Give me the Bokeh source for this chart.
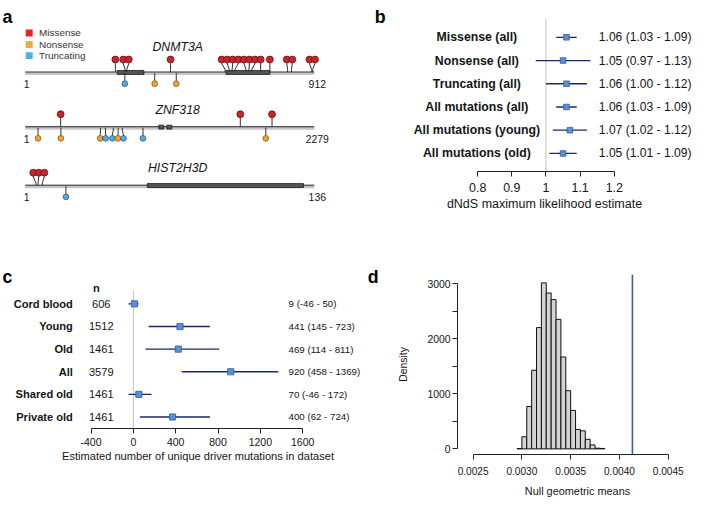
from bokeh.plotting import figure
from bokeh.models import (Range1d, FixedTicker, ColumnDataSource, Span, CustomJSTickFormatter)
from bokeh.layouts import row, column
from bokeh.embed import file_html
from bokeh.resources import INLINE
from bokeh.core.properties import value

FONT = "Liberation Sans"
TOTAL_W, TOTAL_H = 699, 500
SX = TOTAL_W / 707
SY = TOTAL_H / 508

# ---------------- data: panel a ----------------
legend_labels = ["Missense", "Nonsense", "Truncating"]
genes = ["DNMT3A", "ZNF318", "HIST2H3D"]
gene_lengths = [912, 2279, 136]
dnmt3a_missense = [285, 316, 321, 459, 631, 644, 653, 662, 697, 706, 715, 743, 772, 828, 840, 904, 907]
dnmt3a_nonsense = [409, 477]
dnmt3a_truncating = [315]
dnmt3a_domain_start = [291, 634]
dnmt3a_domain_end = [375, 772]
znf318_missense = [280, 1696, 1946]
znf318_nonsense = [102, 282, 594, 734, 1897]
znf318_truncating = [633, 695, 766, 929]
znf318_domain_start = [1054, 1117]
znf318_domain_end = [1093, 1156]
hist2h3d_missense = [6, 7, 9]
hist2h3d_nonsense = []
hist2h3d_truncating = [20]
hist2h3d_domain_start = [58]
hist2h3d_domain_end = [131]

# ---------------- data: panel b ----------------
b_labels = ["Missense (all)", "Nonsense (all)", "Truncating (all)",
            "All mutations (all)", "All mutations (young)", "All mutations (old)"]
b_est = [1.06, 1.05, 1.06, 1.06, 1.07, 1.05]
b_lo = [1.03, 0.97, 1.00, 1.03, 1.02, 1.01]
b_hi = [1.09, 1.13, 1.12, 1.09, 1.12, 1.09]
b_ticks = [0.8, 0.9, 1.0, 1.1, 1.2]

# ---------------- data: panel c ----------------
c_labels = ["Cord blood", "Young", "Old", "All", "Shared old", "Private old"]
c_n = [606, 1512, 1461, 3579, 1461, 1461]
c_point = [9, 441, 424, 920, 52, 370]
c_est = [9, 441, 469, 920, 70, 400]
c_lo = [-46, 145, 114, 458, -46, 62]
c_hi = [50, 723, 811, 1369, 172, 724]
c_ticks = [-400, 0, 400, 800, 1200, 1600]

# ---------------- data: panel d ----------------
d_edges = [0.00295, 0.00300, 0.00305, 0.00310, 0.00315, 0.00320, 0.00325, 0.00330,
           0.00335, 0.00340, 0.00345, 0.00350, 0.00355, 0.00360, 0.00365, 0.00370,
           0.00375, 0.00380, 0.00385]
d_density = [5, 220, 770, 1428, 2204, 3016, 2832, 2712, 2353, 1670, 1057, 699,
             353, 328, 174, 72, 12, 8]
d_observed = 0.004133
d_xticks = [0.0025, 0.0030, 0.0035, 0.0040, 0.0045]
d_yticks = [0, 500, 1000, 1500, 2000, 2500, 3000]

# ---------------- colours ----------------
MIS_FILL, MIS_LINE = "#c4262c", "#6a1014"
NON_FILL, NON_LINE = "#eca43a", "#8a5a10"
TRU_FILL, TRU_LINE = "#5aa9da", "#2a5f88"
LEG_COLORS = ["#e2242b", "#f3aa3c", "#4fb1e3"]
CI_COLOR = "#1c2768"
SQ_FILL, SQ_LINE = "#5a8fd2", "#2f5b9e"
TXT = "#151515"


def px(s):
    return f"{s * SX:.1f}px"


def spread(vals, gap):
    h = [float(v) for v in sorted(vals)]
    for _ in range(2000):
        moved = False
        for i in range(len(h) - 1):
            d = h[i + 1] - h[i]
            if d < gap - 1e-9:
                s = (gap - d) / 2.0
                h[i] -= s
                h[i + 1] += s
                moved = True
        if not moved:
            break
    return h


def style_axis(ax, tick_size, title_size, label_standoff, title_standoff):
    ax.axis_line_color = "#222222"
    ax.axis_line_width = 1
    ax.major_tick_line_color = "#222222"
    ax.major_tick_out = 5
    ax.major_tick_in = 0
    ax.minor_tick_line_color = None
    ax.major_label_text_font = FONT
    ax.major_label_text_font_size = px(tick_size)
    ax.major_label_text_color = TXT
    ax.major_label_standoff = label_standoff
    ax.axis_label_text_font = FONT
    ax.axis_label_text_font_style = "normal"
    ax.axis_label_text_font_size = px(title_size)
    ax.axis_label_text_color = TXT
    ax.axis_label_standoff = title_standoff


def new_fig(**kw):
    p = figure(output_backend="svg", toolbar_location=None, frame_align=False, **kw)
    p.grid.visible = False
    p.outline_line_color = None
    return p


def label_text(p, x, y, text, size, align="left", baseline="middle", style="normal",
               color=TXT, **kw):
    p.text(x=x, y=y, text=text, text_font=value(FONT), text_font_size=px(size),
           text_font_style=style, text_color=color, text_align=align,
           text_baseline=baseline, **kw)


# =============== panel a (figure spans ref x 0-393, y 0-250) ===============
A_RIGHT = 393.0
WA = round(A_RIGHT * SX)
H1 = round(250 * SY)
pa = new_fig(width=WA, height=H1, x_range=Range1d(0, A_RIGHT), y_range=Range1d(250, 0),
             x_axis_type=None, y_axis_type=None, min_border=0)

TRACK_X0, TRACK_X1 = 25.0, 317.0
TRACK_W = TRACK_X1 - TRACK_X0
TRACK_Y = [72.7, 128.3, 187.7]
NAME_Y = [47.0, 111.7, 170.0]
missense = [dnmt3a_missense, znf318_missense, hist2h3d_missense]
nonsense = [dnmt3a_nonsense, znf318_nonsense, hist2h3d_nonsense]
truncating = [dnmt3a_truncating, znf318_truncating, hist2h3d_truncating]
dom_s = [dnmt3a_domain_start, znf318_domain_start, hist2h3d_domain_start]
dom_e = [dnmt3a_domain_end, znf318_domain_end, hist2h3d_domain_end]

extra = {}
for gi, g in enumerate(genes):
    L = gene_lengths[gi]
    k = (L - 1) / TRACK_W
    extra[g] = Range1d(1 - TRACK_X0 * k, L + (A_RIGHT - TRACK_X1) * k)
pa.extra_x_ranges = extra

for gi, g in enumerate(genes):
    L = gene_lengths[gi]
    k = (L - 1) / TRACK_W
    ly = TRACK_Y[gi]
    pa.segment(x0=[1], x1=[L], y0=[ly + 1.7], y1=[ly + 1.7], x_range_name=g,
               line_color="#c6c6c6", line_width=2.6)
    pa.segment(x0=[1], x1=[L], y0=[ly], y1=[ly], x_range_name=g,
               line_color="#1e1e1e", line_width=1.0)
    ds, de = dom_s[gi], dom_e[gi]
    pa.quad(left=ds, right=de, top=[ly - 1.6] * len(ds), bottom=[ly + 2.4] * len(ds),
            x_range_name=g, fill_color="#555555", line_color="#1a1a1a", line_width=0.8)

    mis = sorted(missense[gi])
    heads = spread(mis, 5.6 * k)
    hy = ly - 12.7
    pa.multi_line(xs=[[h, h, b, b] for h, b in zip(heads, mis)],
                  ys=[[hy, hy + 4.0, ly - 2.5, ly] for _ in mis],
                  x_range_name=g, line_color="#2e2e2e", line_width=1)
    pa.scatter(x=heads, y=[hy] * len(heads), x_range_name=g, marker="circle",
               size=7.0 * SX, fill_color=MIS_FILL, line_color=MIS_LINE, line_width=0.8)

    items = sorted([(p, "N") for p in nonsense[gi]] + [(p, "T") for p in truncating[gi]])
    if items:
        bpos = [p for p, t in items]
        bheads = spread(bpos, 5.6 * k)
        byy = ly + 11.8
        pa.multi_line(xs=[[b, b, h, h] for h, b in zip(bheads, bpos)],
                      ys=[[ly + 1, ly + 3.5, byy - 3.5, byy] for _ in bpos],
                      x_range_name=g, line_color="#2e2e2e", line_width=1)
        fills = [NON_FILL if t == "N" else TRU_FILL for p, t in items]
        lines = [NON_LINE if t == "N" else TRU_LINE for p, t in items]
        pa.scatter(x=bheads, y=[byy] * len(bheads), x_range_name=g, marker="circle",
                   size=5.8 * SX, fill_color=fills, line_color=lines, line_width=0.8)

    label_text(pa, [179], [NAME_Y[gi]], [g], 12.4, align="center", style="italic")
    label_text(pa, [1], [ly + 12], ["1"], 10.5, align="center", x_range_name=g, x_offset=1.5)
    label_text(pa, [L], [ly + 12], [str(L)], 10.5, align="center", x_range_name=g, x_offset=3)

LEG_Y = [33.0, 44.7, 56.0]
pa.scatter(x=[29] * 3, y=LEG_Y, marker="square", size=7 * SX, fill_color=LEG_COLORS,
           line_color=None)
label_text(pa, [39] * 3, LEG_Y, legend_labels, 10, color="#333333")
label_text(pa, [2], [17], ["a"], 18, style="bold", baseline="alphabetic", color="#000000")
label_text(pa, [378], [16.7], ["b"], 18, style="bold", baseline="alphabetic", color="#000000")

# =============== panel b (figure spans ref x 393-707) ===============
WB = TOTAL_W - WA
B_ROW0, B_STEP = 37.3, 23.54
B_PX_UNIT = 346.0


def bx(ref_x):
    return 0.8 + (ref_x - 482.3) / B_PX_UNIT


def by_(ref_y):
    return (ref_y - B_ROW0) / B_STEP


b_y = list(range(len(b_labels)))
B_FRAME_H = round(173.3 * SY)
pb = new_fig(width=WB, height=H1, x_range=Range1d(bx(A_RIGHT), bx(707)),
             y_range=Range1d(by_(173.3), by_(0)), y_axis_type=None,
             min_border_left=0, min_border_right=0, min_border_top=0,
             min_border_bottom=H1 - B_FRAME_H)
pb.segment(x0=[1.0], x1=[1.0], y0=[by_(18)], y1=[by_(173.3)], line_color="#c3c3c3",
           line_width=1, level="underlay")
b_txt = [f"{e:.2f} ({l:.2f} - {h:.2f})" for e, l, h in zip(b_est, b_lo, b_hi)]
bsrc = ColumnDataSource(dict(y=b_y, est=b_est, lo=b_lo, hi=b_hi))
pb.segment(x0="lo", x1="hi", y0="y", y1="y", source=bsrc, line_color=CI_COLOR, line_width=1.3)
pb.scatter(x="est", y="y", source=bsrc, marker="square", size=5.6, fill_color=SQ_FILL,
           line_color=SQ_LINE, line_width=0.8)
label_text(pb, [bx(481.5)] * len(b_y), b_y, b_labels, 12.4, align="center", style="bold")
label_text(pb, [bx(605)] * len(b_y), b_y, b_txt, 12.2)
pb.xaxis.ticker = FixedTicker(ticks=b_ticks)
pb.xaxis.formatter = CustomJSTickFormatter(code="return String(Math.round(tick*10)/10);")
pb.xaxis.bounds = (0.8, 1.2)
pb.xaxis.axis_label = "dNdS maximum likelihood estimate"
style_axis(pb.xaxis, 12.5, 12.6, 6, 2)

# =============== panel c (figure spans ref x 0-400, y 250-508) ===============
H2 = TOTAL_H - H1
C_RIGHT = 400.0
WC = round(C_RIGHT * SX)
C_ROW0, C_STEP = 308.3, 23.0
C_PX_UNIT = 214.3 / 2000.0


def cx(ref_x):
    return -400 + (ref_x - 91.7) / C_PX_UNIT


def cy(ref_y):
    return (ref_y - C_ROW0) / C_STEP


c_y = list(range(len(c_labels)))
C_FRAME_H = round((435 - 250) * SY)
pc = new_fig(width=WC, height=H2, x_range=Range1d(cx(0), cx(C_RIGHT)),
             y_range=Range1d(cy(435), cy(250)), y_axis_type=None,
             min_border_left=0, min_border_right=0, min_border_top=0,
             min_border_bottom=H2 - C_FRAME_H)
c_txt = [f"{e} ({l} - {h})" for e, l, h in zip(c_est, c_lo, c_hi)]
csrc = ColumnDataSource(dict(y=c_y, pt=c_point, lo=c_lo, hi=c_hi))
pc.segment(x0=[0], x1=[0], y0=[cy(295)], y1=[cy(435)], line_color="#c3c3c3",
           line_width=1, level="underlay")
pc.segment(x0="lo", x1="hi", y0="y", y1="y", source=csrc, line_color=CI_COLOR, line_width=1.4)
pc.scatter(x="pt", y="y", source=csrc, marker="square", size=6.2, fill_color=SQ_FILL,
           line_color=SQ_LINE, line_width=0.8)
label_text(pc, [cx(73.3)] * 6, c_y, c_labels, 11.2, align="right", style="bold")
label_text(pc, [cx(102)] * 6, c_y, [str(v) for v in c_n], 11.2, align="center")
label_text(pc, [cx(291.7)] * 6, c_y, c_txt, 9.8)
label_text(pc, [cx(97)], [cy(291.7)], ["n"], 11.2, align="center", style="bold")
label_text(pc, [cx(2)], [cy(280.5)], ["c"], 18, style="bold", baseline="alphabetic",
           color="#000000")
label_text(pc, [cx(372)], [cy(280.7)], ["d"], 18, style="bold", baseline="alphabetic",
           color="#000000")
pc.xaxis.ticker = FixedTicker(ticks=c_ticks)
pc.xaxis.formatter = CustomJSTickFormatter(code="return tick.toFixed(0);")
pc.xaxis.bounds = (-400, 1600)
pc.xaxis.axis_label = "Estimated number of unique driver mutations in dataset"
style_axis(pc.xaxis, 10.6, 11.2, 4, 1)

# =============== panel d (figure spans ref x 400-707) ===============
WD = TOTAL_W - WC
D_PX_X = 100000.0
D_PX_Y = 55.77 / 1000.0
D_ZERO_Y = 455.0
D_LEFT, D_RIGHT = 460.0, 706.0
D_TOP, D_BOTTOM = 278.3, 460.7
d_x0 = 0.0025 - (476 - D_LEFT) / D_PX_X
d_x1 = 0.0045 + (D_RIGHT - 676) / D_PX_X
d_y0 = -(D_BOTTOM - D_ZERO_Y) / D_PX_Y
d_y1 = 3000 + (287.7 - D_TOP) / D_PX_Y
mb_left = round((D_LEFT - C_RIGHT) * SX)
frame_w = round((D_RIGHT - D_LEFT) * SX)
mb_top = round((D_TOP - 250) * SY)
frame_h = round((D_BOTTOM - D_TOP) * SY)
pd_ = new_fig(width=WD, height=H2, x_range=Range1d(d_x0, d_x1), y_range=Range1d(d_y0, d_y1),
              min_border_left=mb_left, min_border_right=WD - mb_left - frame_w,
              min_border_top=mb_top, min_border_bottom=H2 - mb_top - frame_h)
pd_.quad(left=d_edges[:-1], right=d_edges[1:], bottom=[0] * len(d_density), top=d_density,
         fill_color="#d3d3d3", line_color="#111111", line_width=1)
pd_.add_layout(Span(location=d_observed, dimension="height", line_color="#3a5fae",
                    line_width=1.6))
pd_.xaxis.ticker = FixedTicker(ticks=d_xticks)
pd_.xaxis.formatter = CustomJSTickFormatter(code="return tick.toFixed(4);")
pd_.xaxis.bounds = (0.0025, 0.0045)
pd_.xaxis.axis_label = "Null geometric means"
style_axis(pd_.xaxis, 10.2, 11, 7, 7)
pd_.yaxis.ticker = FixedTicker(ticks=d_yticks)
pd_.yaxis.formatter = CustomJSTickFormatter(
    code="return (Math.round(tick) % 1000 == 0) ? tick.toFixed(0) : '';")
pd_.yaxis.bounds = (0, 3000)
pd_.yaxis.axis_label = "Density"
style_axis(pd_.yaxis, 10.5, 10.5, 2, 15)
pd_.yaxis.major_label_orientation = "horizontal"

layout = column(row(pa, pb), row(pc, pd_))
open("out.html", "w").write(file_html(layout, INLINE))
